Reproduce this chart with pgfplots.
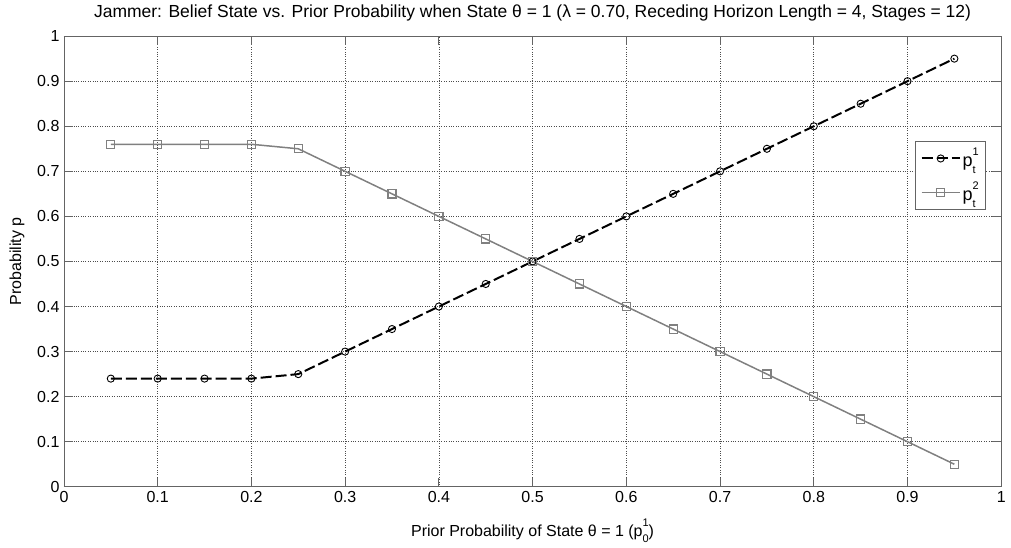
\documentclass[border=0pt]{standalone}
\usepackage{fontspec}
\setmainfont{Liberation Sans}
\usepackage{pgfplots}
\pgfplotsset{compat=1.18}
\definecolor{mgray}{RGB}{128,128,128}
\definecolor{axgray}{RGB}{100,100,100}
\newcommand{\supsub}[2]{\rlap{\raisebox{-0.38em}{\fontsize{11bp}{11bp}\selectfont #2}}\raisebox{0.6em}{\fontsize{11bp}{11bp}\selectfont #1}}
\begin{document}
\fontsize{16bp}{18bp}\selectfont
\begin{tikzpicture}
\begin{axis}[
  scale only axis,
  width=938bp, height=451bp,
  xmin=0, xmax=1, ymin=0, ymax=1,
  xtick={0,0.1,...,1.0}, ytick={0,0.1,...,1.0},
  xticklabels={0,0.1,0.2,0.3,0.4,0.5,0.6,0.7,0.8,0.9,1},
  yticklabels={0,0.1,0.2,0.3,0.4,0.5,0.6,0.7,0.8,0.9,1},
  tick align=inside,
  major tick length=9bp,
  tick style={axgray, line width=0.9pt},
  axis line style={axgray, line width=0.9pt},
  grid=major,
  grid style={black!70, dotted, line width=0.6pt},
  /pgf/number format/assume math mode=true,
  ticklabel style={font=\fontsize{16bp}{18bp}\selectfont},
  xticklabel style={yshift=1bp},
  yticklabel style={xshift=1bp},
  title={Jammer: Belief State vs. Prior Probability when State θ = 1 (λ = 0.70, Receding Horizon Length = 4, Stages = 12)},
  title style={font=\fontsize{17.5bp}{19bp}\selectfont, at={(axis description cs:0.5,1)}, anchor=south, yshift=3bp},
  xlabel={Prior Probability of State θ = 1 (p\supsub{1}{0})},
  ylabel={Probability p},
  xlabel style={font=\fontsize{16bp}{18bp}\selectfont, at={(axis description cs:0.5,0)}, anchor=north, yshift=-27bp},
  ylabel style={font=\fontsize{16bp}{18bp}\selectfont, at={(axis description cs:-0.0501,0.5)}, anchor=center},
  legend style={at={(0.984,0.768)}, anchor=north east, draw=axgray, line width=0.9pt, font=\fontsize{18bp}{20bp}\selectfont, row sep=9bp, inner xsep=5bp, inner ysep=5bp},
  legend cell align=left,
]
\addplot[black, dash pattern=on 11bp off 4bp, line width=2pt, mark=o, mark size=3.6pt, mark options={solid, line width=0.9pt, fill=none},
  legend image code/.code={\draw[mark repeat=2,mark phase=2] plot coordinates {(0bp,0bp)(19bp,0bp)(38bp,0bp)};}]
coordinates {(0.05,0.24)(0.10,0.24)(0.15,0.24)(0.20,0.24)(0.25,0.25)(0.30,0.30)(0.35,0.35)(0.40,0.40)(0.45,0.45)(0.50,0.50)(0.55,0.55)(0.60,0.60)(0.65,0.65)(0.70,0.70)(0.75,0.75)(0.80,0.80)(0.85,0.85)(0.90,0.90)(0.95,0.95)};
\addlegendentry{p\supsub{1}{t}}
\addplot[mgray, solid, line width=1.5pt, mark=square, mark size=4.1pt, mark options={solid, line width=1.2pt, fill=none},
  legend image code/.code={\draw[mark repeat=2,mark phase=2] plot coordinates {(0bp,0bp)(19bp,0bp)(38bp,0bp)};}]
coordinates {(0.05,0.76)(0.10,0.76)(0.15,0.76)(0.20,0.76)(0.25,0.75)(0.30,0.70)(0.35,0.65)(0.40,0.60)(0.45,0.55)(0.50,0.50)(0.55,0.45)(0.60,0.40)(0.65,0.35)(0.70,0.30)(0.75,0.25)(0.80,0.20)(0.85,0.15)(0.90,0.10)(0.95,0.05)};
\addlegendentry{p\supsub{2}{t}}
\end{axis}
\path ([shift={(-64bp,-59bp)}]current axis.south west) rectangle ([shift={(9bp,32bp)}]current axis.north east);
\end{tikzpicture}
\end{document}
